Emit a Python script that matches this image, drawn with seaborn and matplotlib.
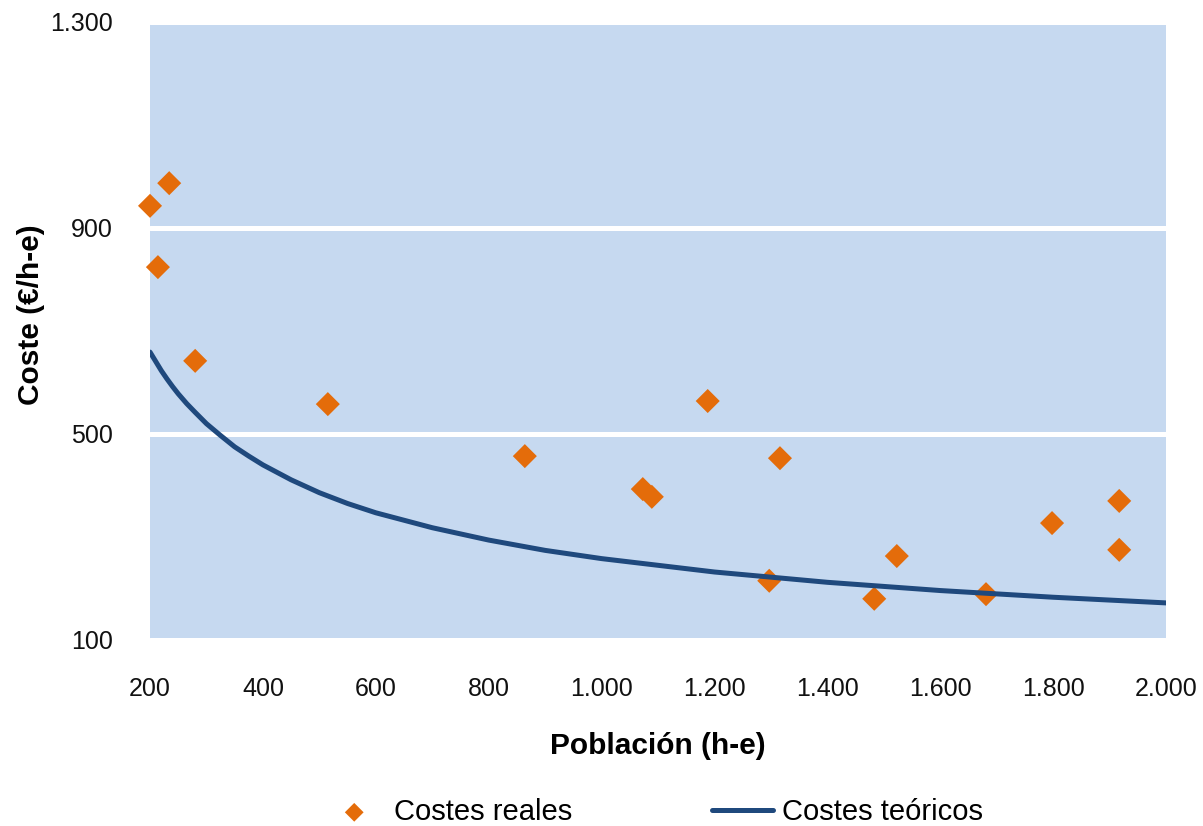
import matplotlib
matplotlib.use('Agg')
import pandas as pd
from matplotlib import pyplot as plt
from matplotlib.ticker import FuncFormatter
import seaborn as sns

# Costes reales (puntos)
poblacion_real = [200, 234, 214, 280, 515, 864, 1073, 1089, 1188, 1316,
                  1297, 1483, 1523, 1681, 1798, 1917, 1917]
coste_real = [943, 987, 824, 642, 558, 457, 393, 378, 564, 453,
              215, 180, 263, 189, 327, 370, 275]

# Costes teoricos (curva)
poblacion_teo = [200, 210, 220, 230, 240, 250, 265, 280, 300, 325, 350,
                 375, 400, 450, 500, 550, 600, 700, 800, 900, 1000,
                 1200, 1400, 1600, 1800, 2000]
coste_teo = [659, 641, 623, 607, 592, 578, 559, 542, 520, 497, 475,
             457, 440, 411, 386, 365, 347, 318, 294, 274, 258,
             232, 212, 196, 183, 172]

x_ticks = [200, 400, 600, 800, 1000, 1200, 1400, 1600, 1800, 2000]
y_ticks = [100, 500, 900, 1300]

df_real = pd.DataFrame({'poblacion': poblacion_real, 'coste': coste_real})
df_teo = pd.DataFrame({'poblacion': poblacion_teo, 'coste': coste_teo})

sns.set_style('white')
plt.rcParams['font.family'] = ['Liberation Sans', 'DejaVu Sans']
plt.rcParams['text.color'] = 'black'
plt.rcParams['axes.labelcolor'] = 'black'

fig = plt.figure(figsize=(12.03, 8.26), dpi=100)
ax = fig.add_axes([0.1247, 0.2252, 0.8446, 0.7482])
ax.set_facecolor('#C6D9F0')

sns.scatterplot(x='poblacion', y='coste', data=df_real, ax=ax, marker='D',
                s=150, color='#E46C0A', edgecolor='none', label='Costes reales',
                zorder=3, clip_on=False)
sns.lineplot(x='poblacion', y='coste', data=df_teo, ax=ax, color='#1F497D',
             linewidth=3.6, label='Costes teóricos', zorder=4)

ax.set_xlim(200, 2000)
ax.set_ylim(100, 1300)
ax.set_xticks(x_ticks)
ax.set_yticks(y_ticks)
fmt = FuncFormatter(lambda v, p: f'{int(v):,}'.replace(',', '.'))
ax.xaxis.set_major_formatter(fmt)
ax.yaxis.set_major_formatter(fmt)
ax.tick_params(axis='both', length=0, labelsize=18, colors='#111111')
ax.tick_params(axis='y', pad=27)
ax.tick_params(axis='x', pad=27)

ax.grid(axis='y', color='white', linewidth=3.6)
ax.grid(axis='x', visible=False)
ax.set_axisbelow(True)
for s in ax.spines.values():
    s.set_visible(False)

ax.set_xlabel('Población (h-e)', fontsize=21.5, fontweight='bold', labelpad=22)
ax.set_ylabel('Coste (€/h-e)', fontsize=21.5, fontweight='bold')
ax.yaxis.set_label_coords(-0.1033, 0.526)

handles, labels = ax.get_legend_handles_labels()
ax.get_legend().remove()
fig.legend(handles, labels, loc='center', bbox_to_anchor=(0.543, 0.017),
           ncol=2, frameon=False, fontsize=21, handlelength=2.1,
           handletextpad=0.3, columnspacing=4.8, markerscale=0.78)

fig.savefig('out.png', dpi=100)
